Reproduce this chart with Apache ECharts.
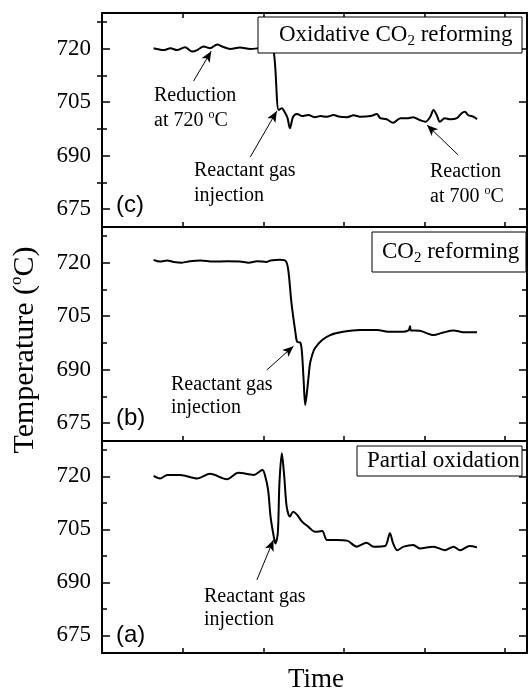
<!DOCTYPE html>
<html>
<head>
<meta charset="utf-8">
<script src="https://cdn.jsdelivr.net/npm/echarts@6/dist/echarts.min.js"></script>
<style>
html,body{margin:0;padding:0;background:#fff;}
#chart{width:530px;height:695px;}
</style>
</head>
<body>
<div id="chart"></div>
<script>
// ---- data (time in arbitrary units, temperature in °C) ----
const timeC = [0.64,0.76,0.85,0.93,1.03,1.12,1.18,1.26,1.34,1.43,1.49,1.59,1.71,1.84,1.94,2.04,2.12,2.19,2.23,2.27,2.30,2.33,2.37,2.42,2.48,2.56,2.64,2.71,2.79,2.87,2.95,3.04,3.12,3.20,3.33,3.41,3.45,3.53,3.61,3.70,3.78,3.86,3.94,4.01,4.07,4.11,4.15,4.19,4.25,4.32,4.40,4.46,4.50,4.54,4.61,4.65];
const tempC = [720.1,719.6,720.1,719.6,720.4,719.2,719.6,720.6,720.1,721.2,720.6,719.9,720.3,719.9,720.1,720.2,720.0,702.8,703.3,702.0,700.6,697.7,700.9,701.7,701.1,701.4,700.8,701.1,700.9,701.4,700.9,700.8,701.3,700.9,701.1,701.7,700.5,700.2,699.2,700.5,700.5,700.8,700.0,699.5,700.9,702.8,701.4,699.5,700.5,700.2,700.5,701.9,702.3,701.4,700.9,700.2];

const timeB = [0.64,0.72,0.81,0.89,0.99,1.09,1.22,1.38,1.55,1.71,1.82,1.92,2.04,2.09,2.21,2.28,2.31,2.35,2.40,2.42,2.46,2.48,2.50,2.52,2.54,2.56,2.58,2.61,2.64,2.73,2.83,2.99,3.20,3.41,3.57,3.70,3.80,3.82,3.83,3.94,4.11,4.23,4.36,4.48,4.65];
const tempB = [720.8,720.3,720.6,720.2,720.0,720.4,720.6,720.3,720.4,720.3,720.0,720.4,720.2,720.6,720.8,720.4,717.9,708.6,700.2,697.8,697.6,694.6,687.1,680.1,683.4,687.7,691.8,694.4,696.0,698.3,699.7,700.6,701.1,701.1,700.6,700.6,701.0,702.2,701.0,700.9,699.7,700.4,701.0,700.5,700.5];

const timeA = [0.64,0.72,0.81,0.97,1.18,1.34,1.55,1.69,1.88,1.99,2.02,2.06,2.09,2.13,2.15,2.18,2.20,2.23,2.26,2.29,2.33,2.37,2.42,2.48,2.56,2.64,2.73,2.79,2.91,3.04,3.16,3.28,3.37,3.51,3.57,3.61,3.66,3.74,3.86,3.94,4.11,4.25,4.36,4.44,4.56,4.65];
const tempA = [720.1,719.4,720.4,720.4,719.4,720.7,719.2,721.0,720.4,721.8,720.4,716.1,708.6,702.9,701.0,703.9,718.0,726.5,719.9,711.4,708.6,710.0,709.1,707.2,705.7,704.3,704.5,702.0,702.0,701.8,700.1,701.2,700.1,700.3,703.9,701.0,699.1,700.1,700.6,699.6,700.1,699.1,700.1,699.1,700.3,699.9];

const yMajorTicks = [675, 690, 705, 720];
const yMinorTicks = [682.5, 697.5, 712.5, 727.5];

// annotation arrows: [tail, head] in data coordinates
const arrowsC = [[[1.135,710.9],[1.354,719.3]], [[1.838,689.6],[2.168,702.5]], [[4.417,690.2],[4.030,698.6]]];
const arrowsB = [[[2.043,689.9],[2.374,696.6]]];
const arrowsA = [[[1.921,690.7],[2.126,702.0]]];

// ---- layout ----
const SERIF = 'Liberation Serif';
const grids = [
  {left: 102, right: 3, top: 13, height: 214},
  {left: 102, right: 3, top: 227, height: 214},
  {left: 102, right: 3, top: 441, height: 212}
];

const xAxes = [];
const yAxes = [];
for (let g = 0; g < 3; g++) {
  xAxes.push({
    type: 'value', gridIndex: g, position: 'bottom', min: 0, max: 5.27, interval: 1,
    axisLine: {show: true, onZero: false, lineStyle: {color: '#000', width: 2}},
    axisTick: {show: true, inside: true, length: 5, lineStyle: {color: '#000', width: 1.5}},
    axisLabel: {show: false}, splitLine: {show: false}
  });
}
xAxes.push({
  type: 'value', gridIndex: 0, position: 'top', min: 0, max: 5.27, interval: 1,
  axisLine: {show: true, onZero: false, lineStyle: {color: '#000', width: 2}},
  axisTick: {show: true, inside: true, length: 5, lineStyle: {color: '#000', width: 1.5}},
  axisLabel: {show: false}, splitLine: {show: false}
});
for (let g = 0; g < 3; g++) {
  ['left', 'right'].forEach(function (pos) {
    yAxes.push({
      type: 'value', gridIndex: g, position: pos, min: 670, max: 730,
      axisLine: {show: true, onZero: false, lineStyle: {color: '#000', width: 2}},
      axisTick: {show: true, inside: true, length: 8, customValues: yMajorTicks, lineStyle: {color: '#000', width: 1.5}},
      axisLabel: {show: pos === 'left', customValues: yMajorTicks, margin: 11, color: '#000', fontFamily: SERIF, fontSize: 23},
      splitLine: {show: false}
    });
    yAxes.push({
      type: 'value', gridIndex: g, position: pos, min: 670, max: 730,
      axisLine: {show: false},
      axisTick: {show: true, inside: true, length: 5, customValues: yMinorTicks, lineStyle: {color: '#000', width: 1.5}},
      axisLabel: {show: false},
      splitLine: {show: false}
    });
  });
}

function zip(t, v) { return t.map(function (x, i) { return [x, v[i]]; }); }
function arrowData(list) {
  return list.map(function (a) { return [{coord: a[0]}, {coord: a[1]}]; });
}
function mkSeries(g, t, v, arrows) {
  return {
    type: 'line', xAxisIndex: g, yAxisIndex: g * 4, data: zip(t, v),
    showSymbol: false, symbol: 'none', smooth: 0.3,
    lineStyle: {color: '#000', width: 2}, z: 2,
    markLine: {
      silent: true, symbol: ['none', 'arrow'], symbolSize: [7, 11],
      lineStyle: {color: '#000', width: 1, type: 'solid'},
      label: {show: false}, emphasis: {disabled: true},
      data: arrowData(arrows)
    }
  };
}

const base = {fontFamily: SERIF, fontSize: 20, fill: '#000', lineHeight: 24};
const sup = {fontFamily: SERIF, fontSize: 12, fill: '#000', lineHeight: 12, verticalAlign: 'top'};
const big = {fontFamily: SERIF, fontSize: 23, fill: '#000', lineHeight: 27};
const sub = {fontFamily: SERIF, fontSize: 15, fill: '#000', lineHeight: 15, verticalAlign: 'bottom'};

function txt(x, y, text, extra) {
  return Object.assign({
    type: 'text', x: x, y: y, z: 60,
    style: {text: text, fontFamily: SERIF, fontSize: 20, fill: '#000', align: 'left', verticalAlign: 'middle', rich: {a: base, s: sup, b: big, d: sub}}
  }, extra || {});
}
function box(x, y, w, h) {
  return {type: 'rect', z: 50, shape: {x: x, y: y, width: w, height: h}, style: {fill: '#fff', stroke: '#000', lineWidth: 1}};
}
function panelLabel(x, y, t) {
  return {type: 'text', x: x, y: y, z: 60, style: {text: t, fontFamily: 'Liberation Sans', fontSize: 24, fill: '#000', align: 'left', verticalAlign: 'middle'}};
}

const graphic = [
  box(258, 17, 264, 36),
  txt(279, 35, '{b|Oxidative CO}{d|2}{b| reforming}'),
  box(372, 232, 154, 40),
  txt(382, 252, '{b|CO}{d|2}{b| reforming}'),
  box(357, 446, 165, 30),
  txt(367, 461, '{b|Partial oxidation}'),
  txt(154, 96, '{a|Reduction}'),
  txt(154, 121, '{a|at 720 }{s|o}{a|C}'),
  txt(194, 171, '{a|Reactant gas}'),
  txt(194, 196, '{a|injection}'),
  txt(430, 172, '{a|Reaction}'),
  txt(430, 197, '{a|at 700 }{s|o}{a|C}'),
  txt(171, 385, '{a|Reactant gas}'),
  txt(171, 408, '{a|injection}'),
  txt(204, 597, '{a|Reactant gas}'),
  txt(204, 620, '{a|injection}'),
  panelLabel(116, 205, '(c)'),
  panelLabel(116, 418, '(b)'),
  panelLabel(116, 635, '(a)'),
  {type: 'text', x: 316, y: 680, z: 60, style: {text: 'Time', fontFamily: SERIF, fontSize: 27, fill: '#000', align: 'center', verticalAlign: 'middle'}},
  {type: 'text', x: 25, y: 350, z: 60, rotation: Math.PI / 2,
   style: {text: '{t|Temperature (}{u|o}{t|C)}', align: 'center', verticalAlign: 'middle',
     rich: {t: {fontFamily: SERIF, fontSize: 30, fill: '#000', lineHeight: 34}, u: {fontFamily: SERIF, fontSize: 17, fill: '#000', lineHeight: 17, verticalAlign: 'top'}}}}
];

const chart = echarts.init(document.getElementById('chart'), null, {renderer: 'canvas'});
chart.setOption({
  animation: false,
  backgroundColor: '#fff',
  grid: grids,
  xAxis: xAxes,
  yAxis: yAxes,
  series: [
    mkSeries(0, timeC, tempC, arrowsC),
    mkSeries(1, timeB, tempB, arrowsB),
    mkSeries(2, timeA, tempA, arrowsA)
  ],
  graphic: graphic
});
</script>
</body>
</html>
